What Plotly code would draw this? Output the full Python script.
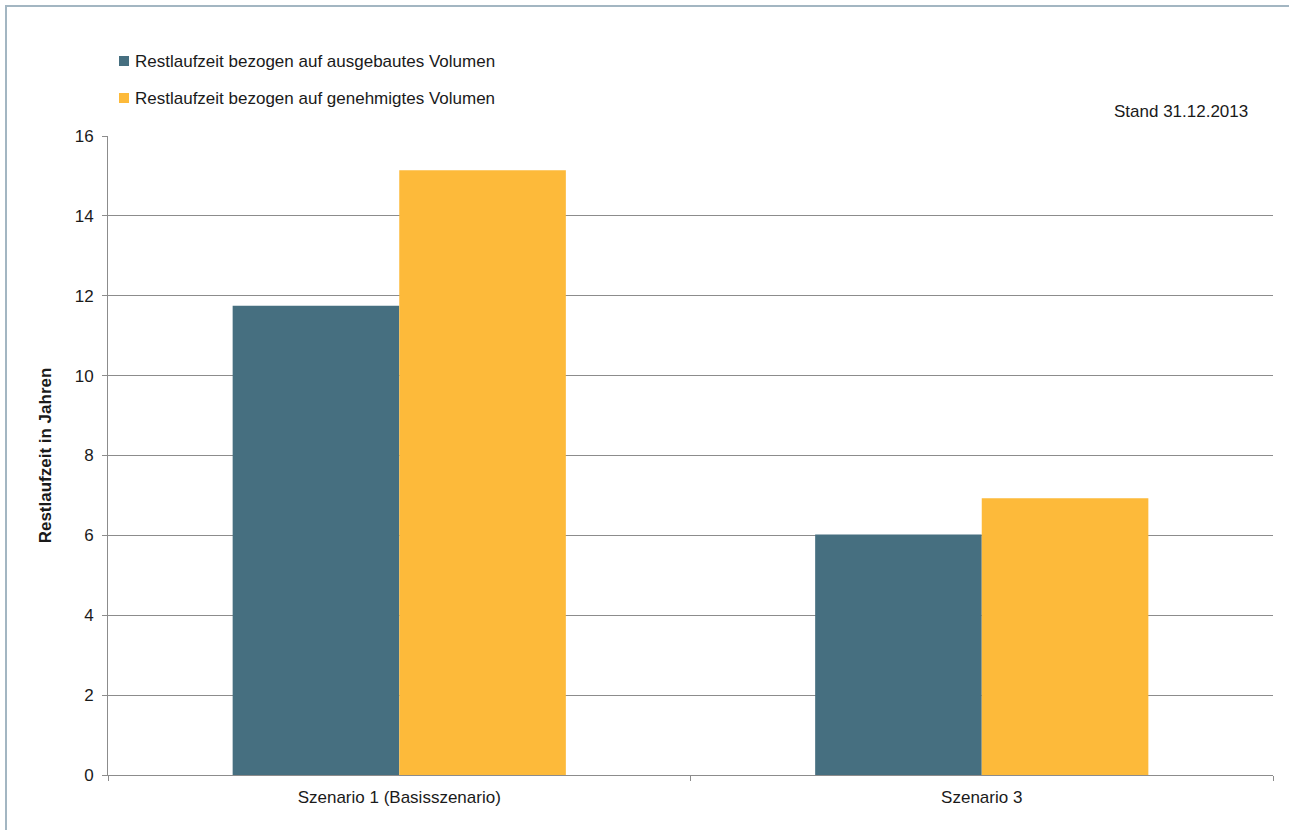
import plotly.graph_objects as go

# Data
scenarios = ["Szenario 1 (Basisszenario)", "Szenario 3"]
series_names = [
    "Restlaufzeit bezogen auf ausgebautes Volumen",
    "Restlaufzeit bezogen auf genehmigtes Volumen",
]
restlaufzeit_ausgebaut = [11.75, 6.02]
restlaufzeit_genehmigt = [15.14, 6.93]
y_ticks = [0, 2, 4, 6, 8, 10, 12, 14, 16]

colors = ["#466F80", "#FDBA3A"]
font_family = "Arial, Liberation Sans, sans-serif"
axis_gray = "#8C8C8C"
text_color = "#1A1A1A"

W, H = 1289, 830
ML, MR, MT, MB = 108, 16, 136, 55

fig = go.Figure()
for name, vals, col in zip(series_names, [restlaufzeit_ausgebaut, restlaufzeit_genehmigt], colors):
    fig.add_trace(go.Bar(
        x=scenarios, y=vals, name=name,
        marker=dict(color=col, line=dict(width=0)),
        showlegend=False,
    ))

fig.update_layout(
    width=W, height=H,
    margin=dict(l=ML, r=MR, t=MT, b=MB, pad=0),
    paper_bgcolor="white", plot_bgcolor="white",
    barmode="group", bargap=0.428, bargroupgap=0,
    font=dict(family=font_family, size=17, color=text_color),
)

fig.update_yaxes(
    range=[0, 16], tickvals=y_ticks,
    showgrid=True, gridcolor=axis_gray, gridwidth=1,
    showline=True, linecolor=axis_gray, linewidth=1,
    ticks="outside", ticklen=5, tickcolor=axis_gray,
    zeroline=False, ticklabelstandoff=5,
    title=dict(text="<b>Restlaufzeit in Jahren</b>", font=dict(size=17), standoff=18),
)
fig.update_xaxes(
    showline=True, linecolor=axis_gray, linewidth=1,
    ticks="outside", ticklen=5, tickcolor=axis_gray, tickson="boundaries",
    showgrid=False, ticklabelstandoff=7,
)

# Legend drawn as coloured squares with labels above the plot area
def px_x(px):
    return (px - ML) / (W - ML - MR)

def px_y(py):
    return (H - MB - py) / (H - MT - MB)

legend_rows = [61, 98]
for name, col, yc in zip(series_names, colors, legend_rows):
    fig.add_shape(type="rect", xref="paper", yref="paper",
                  x0=px_x(119), x1=px_x(129), y0=px_y(yc + 5), y1=px_y(yc - 5),
                  fillcolor=col, line=dict(width=0))
    fig.add_annotation(text=name, xref="paper", yref="paper",
                       x=px_x(133), y=px_y(yc), xanchor="left", yanchor="middle",
                       showarrow=False, font=dict(size=17))

fig.add_annotation(text="Stand 31.12.2013", xref="paper", yref="paper",
                   x=px_x(1250), y=px_y(112), xanchor="right", yanchor="middle",
                   showarrow=False, font=dict(size=17))

# Frame edges around the chart (left and top) as one open path
frame_path = "M {:.5f},{:.5f} L {:.5f},{:.5f} L {:.5f},{:.5f}".format(
    px_x(6), px_y(H + 5), px_x(6), px_y(6), px_x(W + 5), px_y(6))
fig.add_shape(type="path", xref="paper", yref="paper", path=frame_path,
              line=dict(color="#A3B6C2", width=2), fillcolor="rgba(0,0,0,0)")

fig.write_html("out.html")
